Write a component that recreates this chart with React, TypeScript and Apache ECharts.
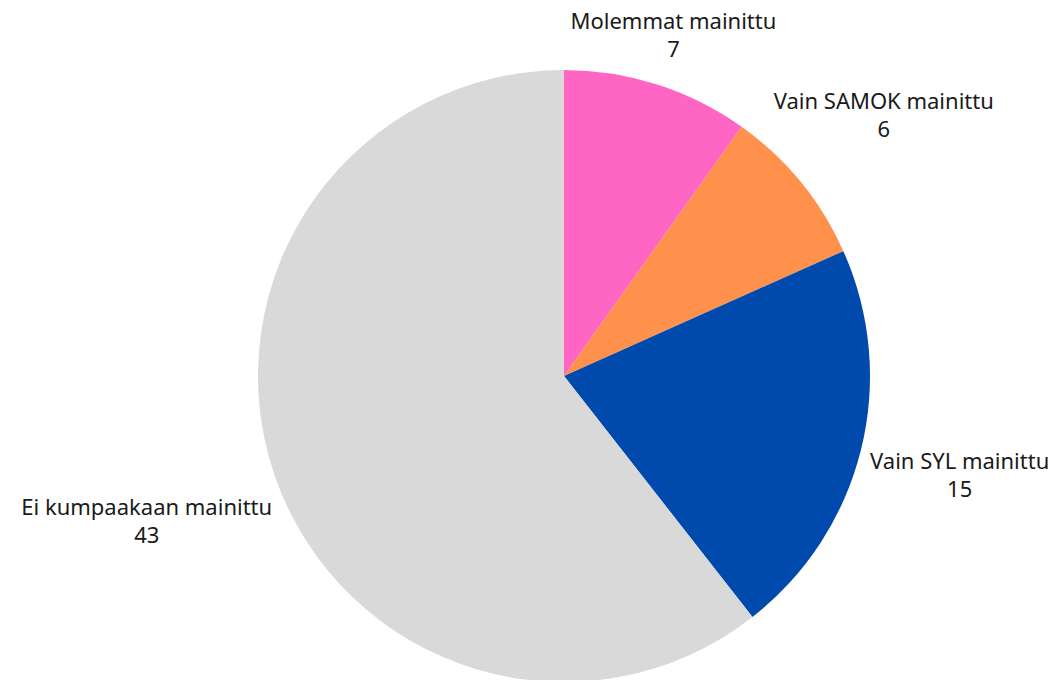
import React, { useEffect, useRef } from "react";
import * as echarts from "echarts";

const categories = ["Molemmat mainittu", "Vain SAMOK mainittu", "Vain SYL mainittu", "Ei kumpaakaan mainittu"];
const values = [7, 6, 15, 43];
const colors = ["#FF66C4", "#FF914D", "#004AAD", "#D9D9D9"];

const CX = 564;
const CY = 376;
const R = 306;
const GAP = 8;

function boxDist(bx: number, by: number, w: number, h: number) {
  const dx = Math.max(Math.abs(bx - CX) - w / 2, 0);
  const dy = Math.max(Math.abs(by - CY) - h / 2, 0);
  return Math.sqrt(dx * dx + dy * dy);
}

export default function App() {
  const ref = useRef<HTMLDivElement>(null);
  useEffect(() => {
    if (!ref.current) return;
    const chart = echarts.init(ref.current, undefined, { renderer: "svg" });
    const total = values.reduce((a, b) => a + b, 0);
    chart.setOption({
      animation: false,
      backgroundColor: "#ffffff",
      series: [
        {
          type: "pie",
          center: [CX, CY],
          radius: [0, R],
          startAngle: 90,
          clockwise: true,
          data: categories.map((name, i) => ({
            name,
            value: values[i],
            itemStyle: { color: colors[i] },
          })),
          label: {
            show: true,
            position: "outside",
            formatter: "{b}\n{c}",
            fontFamily: "'Noto Sans', sans-serif",
            fontSize: 22,
            lineHeight: 28,
            color: "#1a1a1a",
            align: "center",
            overflow: "none",
          },
          labelLine: { show: false },
          emphasis: { disabled: true },
          labelLayout: (params: any) => {
            const i = params.dataIndex;
            const before = values.slice(0, i).reduce((a, b) => a + b, 0);
            const ang = ((before + values[i] / 2) / total) * Math.PI * 2;
            const ux = Math.sin(ang);
            const uy = -Math.cos(ang);
            const w = params.labelRect.width;
            const h = params.labelRect.height;
            let lo = 0;
            let hi = R + GAP + w + h;
            for (let k = 0; k < 40; k++) {
              const mid = (lo + hi) / 2;
              if (boxDist(CX + ux * mid, CY + uy * mid, w, h) >= R + GAP) hi = mid;
              else lo = mid;
            }
            return {
              x: CX + ux * hi,
              y: CY + uy * hi,
              align: "center",
              verticalAlign: "middle",
            };
          },
        },
      ],
    });
    return () => chart.dispose();
  }, []);
  return (
    <div
      ref={ref}
      style={{ position: "fixed", left: 0, top: 0, width: 1064, height: 680 }}
    />
  );
}
